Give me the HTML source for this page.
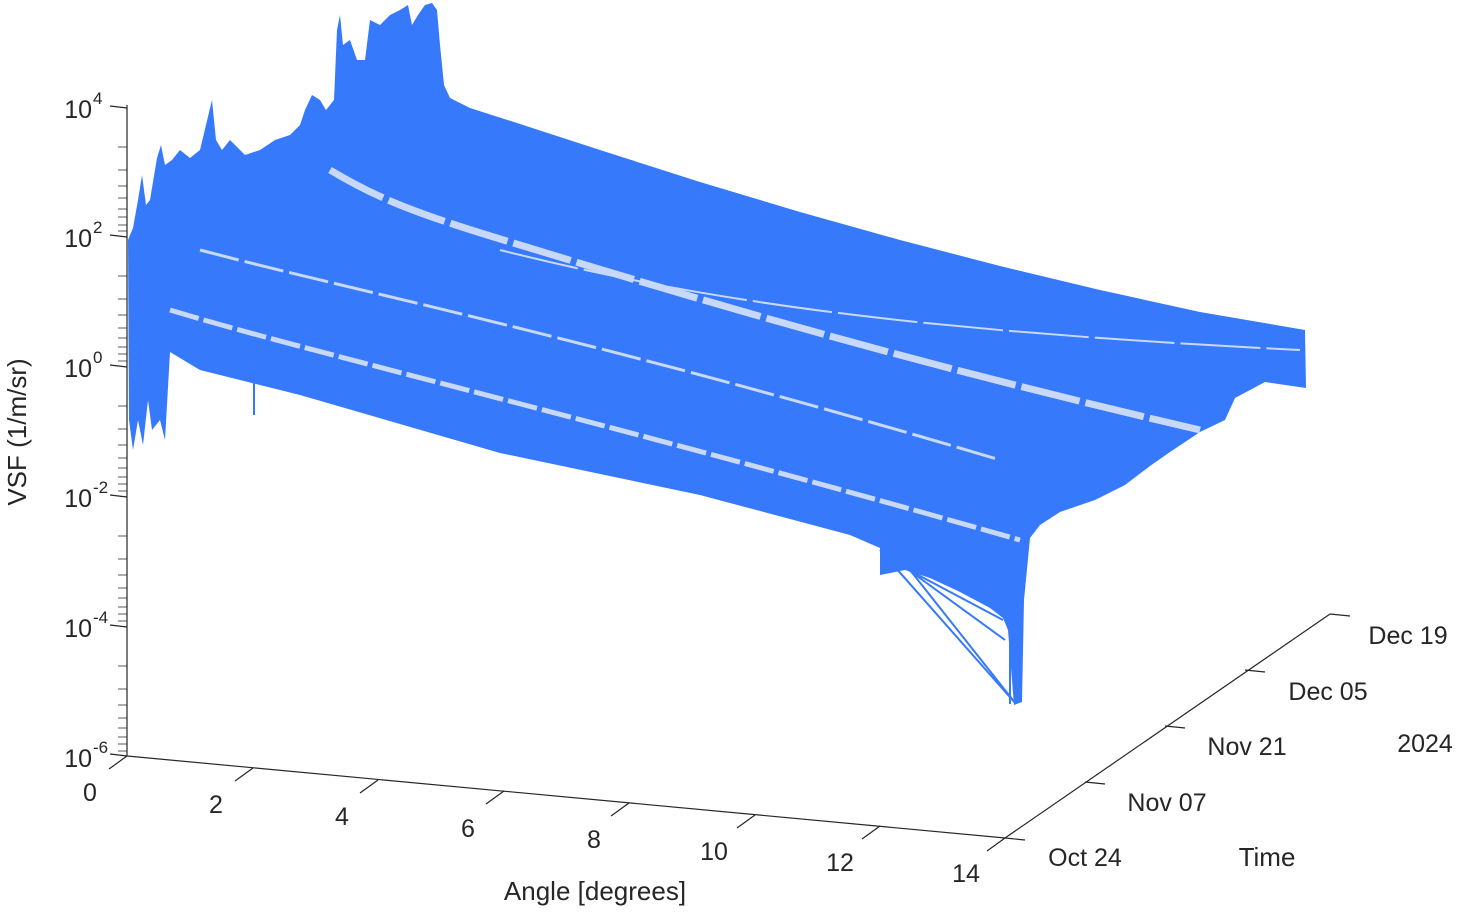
<!DOCTYPE html>
<html><head><meta charset="utf-8"><style>
body{margin:0;background:#fff;}
svg text{font-family:"Liberation Sans",Arial,sans-serif;fill:#262626;}
</style></head><body>
<svg width="1458" height="911" viewBox="0 0 1458 911" xmlns="http://www.w3.org/2000/svg">
<rect width="1458" height="911" fill="#fff"/>
<path fill="#3679fb" d="M128,240 L133,228 L138,200 L142,175 L146,205 L150,200 L157,158 L161,145 L165,165 L172,160 L180,150 L190,158 L200,150 L212,100 L216,140 L222,150 L230,140 L245,155 L260,150 L275,140 L290,135 L300,125 L305,110 L312,95 L320,100 L326,110 L334,100 L337,30 L340,15 L343,45 L350,40 L357,60 L365,60 L370,20 L380,25 L390,15 L400,10 L408,5 L412,25 L418,15 L425,5 L432,3 L437,10 L440,45 L444,85 L450,98 L470,108 L520,124 L600,150 L700,182 L800,212 L900,240 L1000,266 L1100,290 L1200,312 L1305,330 L1306,388 L1265,382 L1235,398 L1225,420 L1200,432 L1170,452 L1150,466 L1125,485 L1095,500 L1060,512 L1040,525 L1030,538 L1024,600 L1022,702 L1014,705 L1008,630 L1003,618 L990,608 L960,592 L930,578 L905,570 L880,575 L880,548 L850,535 L700,495 L500,453 L300,395 L260,385 L200,370 L170,352 L165,440 L160,420 L152,430 L148,400 L143,445 L138,420 L133,450 L129,420 Z"/>
<g stroke="#c8d8f8" fill="none">
<path d="M330,170 C380,200 420,215 520,245 C700,300 900,360 1200,430" stroke-width="7" stroke-dasharray="60,6"/>
<path d="M200,250 C350,290 600,340 1000,460" stroke-width="3" stroke-dasharray="40,6"/>
<path d="M170,310 C300,350 600,420 1020,540" stroke-width="5" stroke-dasharray="30,5"/>
<path d="M500,250 C700,300 900,330 1300,350" stroke-width="2" stroke-dasharray="80,6"/>
</g>
<g stroke="#3679fb" fill="none" stroke-width="2">
<path d="M880,550 L1016,704 M910,570 L1016,704 M905,568 L1003,620 M895,560 L1005,640 M1010,620 L1010,704"/>
<path d="M254,380 L254,415"/>
</g>
<g stroke="#262626" stroke-width="1.2" fill="none">
<path d="M127,105 L127,756 L1005,838 L1330,614"/>
<path d="M127,756 L109,769 M253,768 L235,781 M378,780 L360,793 M504,791 L486,804 M629,803 L611,816 M755,815 L737,828 M880,826 L862,839 M1005,838 L987,851"/>
<path d="M1005,838 L1025,840 M1085,782 L1105,784 M1165,726 L1185,728 M1245,670 L1265,672 M1330,614 L1350,616"/>
<path d="M127,108 L110,106 M127,237 L110,235 M127,367 L110,365 M127,497 L110,495 M127,627 L110,625 M127,756 L110,754"/>
</g>
<g stroke="#262626" stroke-width="0.8">
<path d="M127,147 L118,147 M127,170 L118,170 M127,186 L118,186 M127,198 L118,198 M127,209 L118,209 M127,217 L118,217 M127,225 L118,225 M127,231 L118,231"/>
<path d="M127,276 L118,276 M127,299 L118,299 M127,315 L118,315 M127,328 L118,328 M127,338 L118,338 M127,347 L118,347 M127,354 L118,354 M127,361 L118,361"/>
<path d="M127,406 L118,406 M127,429 L118,429 M127,445 L118,445 M127,458 L118,458 M127,468 L118,468 M127,477 L118,477 M127,484 L118,484 M127,491 L118,491"/>
<path d="M127,536 L118,536 M127,559 L118,559 M127,575 L118,575 M127,588 L118,588 M127,598 L118,598 M127,607 L118,607 M127,614 L118,614 M127,621 L118,621"/>
<path d="M127,666 L118,666 M127,689 L118,689 M127,705 L118,705 M127,718 L118,718 M127,728 L118,728 M127,737 L118,737 M127,744 L118,744 M127,751 L118,751"/>
</g>
<g font-size="25" text-anchor="end">
<text x="92" y="118">10</text><text x="92" y="247">10</text><text x="92" y="377">10</text><text x="92" y="507">10</text><text x="92" y="637">10</text><text x="92" y="767">10</text>
</g>
<g font-size="17">
<text x="93" y="104">4</text><text x="93" y="233">2</text><text x="93" y="363">0</text><text x="93" y="493">-2</text><text x="93" y="623">-4</text><text x="93" y="753">-6</text>
</g>
<text font-size="26" transform="translate(26,432) rotate(-90)" text-anchor="middle">VSF (1/m/sr)</text>
<g font-size="25" text-anchor="middle">
<text x="90" y="801">0</text><text x="216" y="813">2</text><text x="342" y="825">4</text><text x="468" y="837">6</text><text x="594" y="848">8</text><text x="714" y="860">10</text><text x="840" y="871">12</text><text x="966" y="882">14</text>
</g>
<text x="595" y="900" font-size="26" text-anchor="middle">Angle [degrees]</text>
<g font-size="25" text-anchor="middle">
<text x="1085" y="866">Oct 24</text><text x="1167" y="811">Nov 07</text><text x="1247" y="755">Nov 21</text><text x="1328" y="700">Dec 05</text><text x="1408" y="644">Dec 19</text>
<text x="1425" y="752">2024</text>
<text x="1267" y="866" font-size="26">Time</text>
</g>
</svg>
</body></html>
